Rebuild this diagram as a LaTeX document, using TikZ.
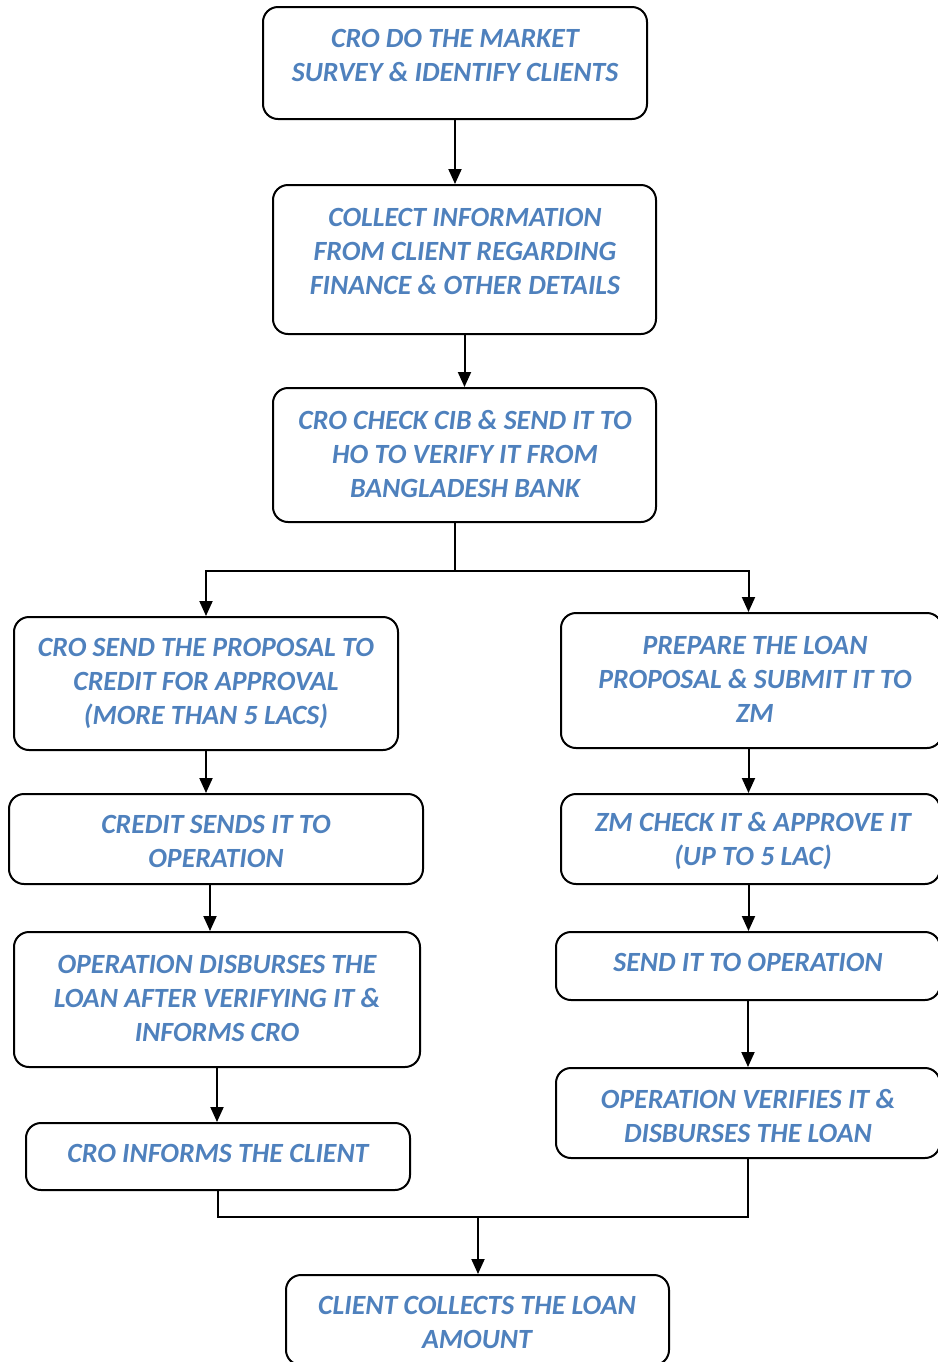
\documentclass[tikz,border=0pt]{standalone}
\usepackage{fontspec}
\setmainfont{Carlito}[BoldItalicFont={Carlito Bold Italic},BoldFont={Carlito Bold},ItalicFont={Carlito Italic}]
\usetikzlibrary{arrows.meta,calc}
\definecolor{txtblue}{HTML}{4F81BD}
\begin{document}
\begin{tikzpicture}[x=0.5pt,y=-0.5pt,
  box/.style={draw=black,line width=1pt,rounded corners=7.5pt,inner sep=0pt},
  txt/.style={text=txtblue,font=\fontsize{13.9}{17}\selectfont\bfseries\itshape,align=center,inner sep=0pt},
  conn/.style={draw=black,line width=1pt},
  arr/.style={conn,-{Triangle[width=6.5pt,length=7.5pt]}}]
\useasboundingbox (0,0) rectangle (938,1362);
% boxes
\node[box,minimum width=192pt,minimum height=56pt] (b1) at (455,63) {};
\node[box,minimum width=191.5pt,minimum height=74.5pt] (b2) at (464.5,259.5) {};
\node[box,minimum width=191.5pt,minimum height=67pt] (b3) at (464.5,455) {};
\node[box,minimum width=192pt,minimum height=66.5pt] (b4) at (206,683.5) {};
\node[box,minimum width=190.5pt,minimum height=67.5pt] (b5) at (751.5,680.5) {};
\node[box,minimum width=207pt,minimum height=45pt] (b6) at (216,839) {};
\node[box,minimum width=189.5pt,minimum height=45pt] (b7) at (750.5,839) {};
\node[box,minimum width=203pt,minimum height=67.5pt] (b8) at (217,999.5) {};
\node[box,minimum width=192pt,minimum height=34pt] (b9) at (748,966) {};
\node[box,minimum width=192pt,minimum height=33.5pt] (b10) at (218,1156.5) {};
\node[box,minimum width=192pt,minimum height=45pt] (b11) at (748,1113) {};
\node[box,minimum width=191.5pt,minimum height=45pt] (b12) at (477.5,1320) {};
% texts
\node[txt] (t1) at (455,55) {CRO DO THE MARKET\\SURVEY \& IDENTIFY CLIENTS};
\node[txt] (t2) at (465,251) {COLLECT INFORMATION\\FROM CLIENT REGARDING\\FINANCE \& OTHER DETAILS};
\node[txt] (t3) at (465,454) {CRO CHECK CIB \& SEND IT TO\\HO TO VERIFY IT FROM\\BANGLADESH BANK};
\node[txt] (t4) at (206,683) {CRO SEND THE PROPOSAL TO\\CREDIT FOR APPROVAL\\(MORE THAN 5 LACS)};
\node[txt] (t5) at (755,679) {PREPARE THE LOAN\\PROPOSAL \& SUBMIT IT TO\\ZM};
\node[txt] (t6) at (216,841) {CREDIT SENDS IT TO\\OPERATION};
\node[txt] (t7) at (753,841) {ZM CHECK IT \& APPROVE IT\\(UP TO 5 LAC)};
\node[txt] (t8) at (217,998) {OPERATION DISBURSES THE\\LOAN AFTER VERIFYING IT \&\\INFORMS CRO};
\node[txt] (t9) at (748,962) {SEND IT TO OPERATION};
\node[txt] (t10) at (218,1153) {CRO INFORMS THE CLIENT};
\node[txt] (t11) at (748,1116) {OPERATION VERIFIES IT \&\\DISBURSES THE LOAN};
\node[txt] (t12) at (477,1322) {CLIENT COLLECTS THE LOAN\\AMOUNT};
% connectors
\draw[arr] (b1.south) -- (b1.south |- b2.north);
\draw[arr] (b2.south) -- (b3.north);
\coordinate (s1) at (455,571);
\coordinate (p5) at ($(b5.north)+(-3,0)$);
\coordinate (q5) at ($(b5.south)+(-3,0)$);
\coordinate (q6) at ($(b6.south)+(-6,0)$);
\coordinate (q7) at ($(b7.south)+(-2,0)$);
\draw[conn] (b3.south -| s1) -- (s1);
\draw[arr] (s1) -| (b4.north);
\draw[arr] (s1) -| (p5);
\draw[arr] (b4.south) -- (b4.south |- b6.north);
\draw[arr] (q6) -- (q6 |- b8.north);
\draw[arr] (b8.south) -- (b8.south |- b10.north);
\draw[arr] (q5) -- (q5 |- b7.north);
\draw[arr] (q7) -- (q7 |- b9.north);
\draw[arr] (b9.south) -- (b11.north);
\coordinate (m1) at (478,1217);
\draw[conn] (b10.south) |- (m1);
\draw[conn] (b11.south) |- (m1);
\draw[arr] (m1) -- (m1 |- b12.north);
\end{tikzpicture}
\end{document}
